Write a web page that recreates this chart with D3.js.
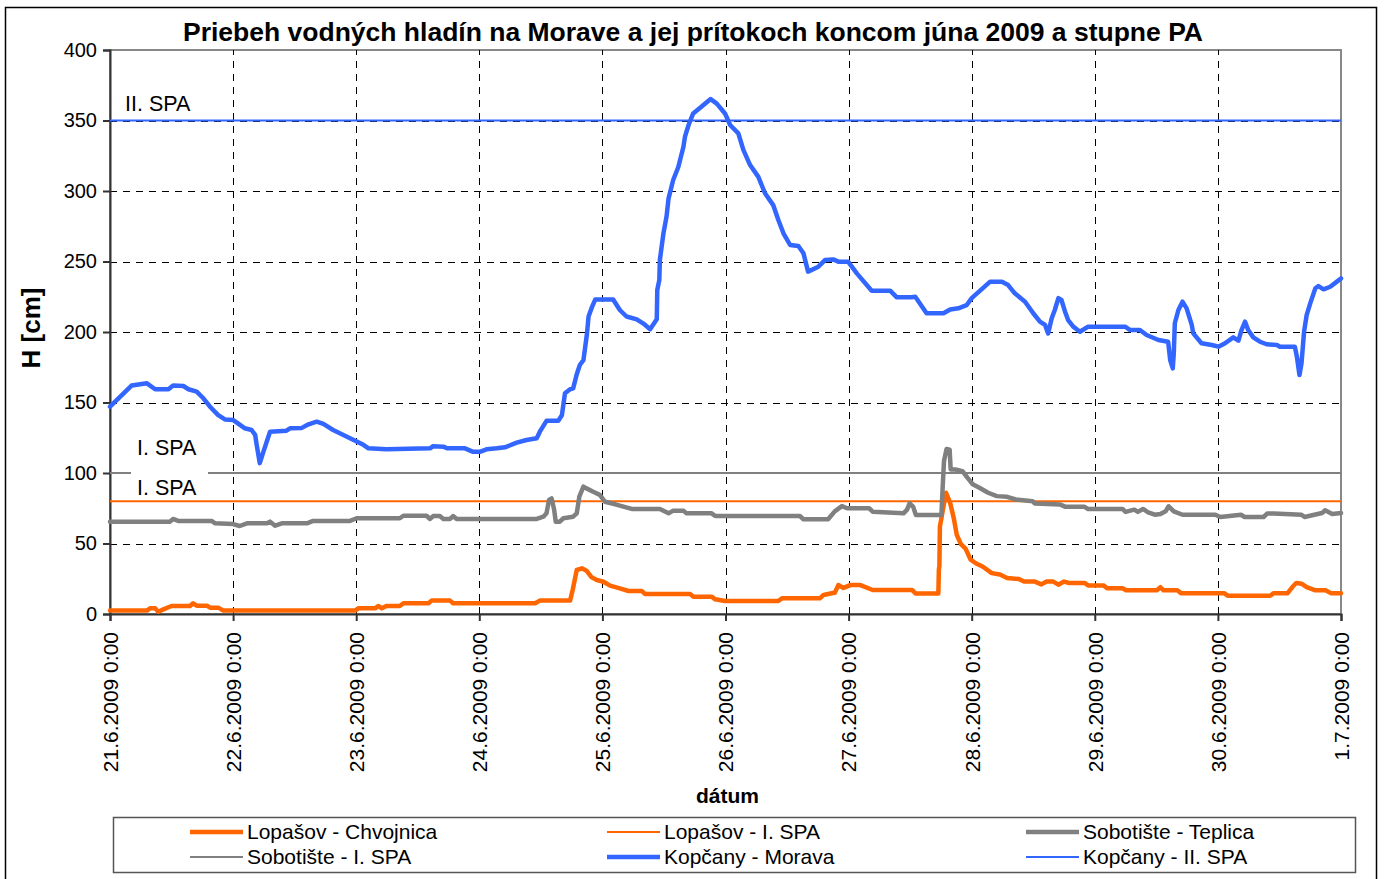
<html><head>
<title>Priebeh vodných hladín - jún 2009</title>
<script src="https://d3js.org/d3.v7.min.js"></script>
<style>
  body { margin: 0; background: #fff; }
  svg text { font-family: "Liberation Sans", Arial, sans-serif; fill: #000; }

  .gridlines line {
    stroke: #000;
    stroke-dasharray: 7,6;
    shape-rendering: crispEdges;
  }
  .gridlines .domain {
    stroke: none;
  }
  .axis .domain, .axis line {
    stroke: #333;
    stroke-width: 2px;
  }
</style>
</head>
<body>
<svg id="chart" width="1384" height="879"></svg>

<script>
  // hours from 21.6.2009 0:00, water level H [cm]
  const lopasovChvojnica = [[0,2.4],[7.2,2.4],[7.8,4],[8.8,4],[9.4,1.6],[10.4,3.3],[12,5.7],[15.6,5.7],[16.2,7.6],[16.9,5.9],
    [18.9,5.9],[19.5,4.5],[21.1,4.5],[22.1,2.4],[47.8,2.4],[48.4,4],[51.7,4],[52.3,5.7],[53,4],[53.9,5.7],[56.5,5.7],[57.2,7.6],
    [62.1,7.6],[62.7,9.5],[66.3,9.5],[66.9,7.6],[82.9,7.6],[83.8,9.5],[89.7,9.5],[90.2,17],[91,31.2],[92,32.4],[92.9,30.7],
    [93.9,26],[94.9,24.1],[96.2,22.9],[97.5,20.1],[99.4,18.2],[101.1,16.3],[103.7,16.3],[104.3,14.2],[113.1,14.2],[113.7,12.3],
    [117.3,12.3],[118,10.4],[119.9,9.2],[130.3,9.2],[131,11.1],[138.4,11.1],[139.1,13.5],[140.7,14.7],[141.3,15],[142,20.5],
    [143,18.5],[144.3,20.5],[146.3,20.5],[148.7,17],[156.4,17],[157.1,14.5],[161.5,14.5],[161.6,31.5],[161.7,34],[161.8,62],
    [162.1,68],[162.5,76.4],[163,86],[163.8,78.8],[164.5,68],[165.1,56],[165.9,49.5],[166.8,46.4],[167.8,38.5],[168.8,36],
    [170.2,33.5],[171.9,29],[173.5,28],[174.9,25.5],[177.2,24.8],[178.2,23],[180.3,23],[181.6,21],[182.6,23],[183.9,23],
    [184.9,20.8],[186,23],[187,22],[190,22],[190.7,20.3],[193.7,20.3],[194.4,18.3],[197.4,18.3],[198.1,16.8],[204.1,16.8],
    [204.8,19],[205.4,16.8],[208.1,16.8],[208.8,14.8],[217.2,14.8],[217.9,13],[226.2,13],[226.9,14.8],[229.6,14.8],[230.6,19.5],
    [231.3,22],[232.3,21.5],[233.3,19],[235,16.8],[237,16.8],[238,14.8],[240,14.8]];

  const sobotisteTeplica = [[0,65.5],[11.7,65.5],[12.3,67.4],[13.3,66],[19.8,66],[20.5,64.3],[24,63.8],[25.3,62.4],[26.7,64.3],
    [30.6,64.3],[31.2,65.5],[32.2,62.6],[33.5,64.3],[38.4,64.3],[39.6,66],[46.8,66],[48.1,67.9],[56.5,67.9],[57.2,69.7],
    [61.7,69.7],[62.4,67.4],[63,69.5],[64.3,69.5],[65,67.4],[66.3,67.4],[66.9,69.5],[67.6,67.4],[83.2,67.4],[84.5,69],
    [85.1,71.4],[85.6,80.9],[86.1,82],[86.6,73.8],[86.9,65.5],[87.7,65.5],[88.4,67.9],[90.3,69],[91,71.4],[91.5,83.2],
    [92.3,90.3],[92.9,89.1],[94.2,86.7],[95.5,84.5],[96.5,79.6],[98.5,77.8],[100.1,76.1],[101.7,74.5],[107.2,74.5],[108.9,71.4],
    [109.8,73.3],[111.8,73.3],[112.4,71.4],[117.3,71.4],[118,69.5],[134.5,69.5],[135.2,67.2],[140,67.2],[141.3,72.8],
    [142.7,76.5],[143.7,75],[148,75],[148.7,72.6],[154.7,71.4],[155.4,74],[155.9,78.5],[156.6,76],[157.1,70.3],[162.1,70.3],
    [162.3,87],[162.6,108.5],[163.1,117],[163.7,116.5],[163.9,102.5],[164.8,102.5],[166.2,101.3],[167.2,96.5],[168.2,92],
    [169.5,89.5],[171.2,86],[172.9,83.6],[174.9,83.1],[176.6,81.2],[179.9,80],[180.3,78.4],[185.3,77.6],[186.3,76],[190,76],
    [190.7,74.5],[197.4,74.5],[198,72.4],[199.7,74],[200.4,72.4],[201.4,74.5],[202.4,72.1],[203.7,70.4],[204.8,70.9],
    [205.8,72.8],[206.4,76.4],[207.4,72.8],[209.1,70.4],[215.5,70.4],[216.5,68.8],[220.5,70.4],[221.2,68.8],[224.9,68.8],
    [225.6,71.2],[226.9,71.2],[232.3,70.4],[232.9,68.8],[236.3,71.6],[236.9,73.6],[238.3,70.9],[240,71.6]];

  const kopcanyMorava = [[0,147],[4.2,162],[7.2,163.6],[8.8,159.4],[11.4,159.4],[12.3,162],[14.3,161.7],[15.3,159.4],
    [16.9,157.7],[18.2,153],[19.5,147],[21.1,141],[22.4,138],[24,137.6],[25,135],[26.3,131.7],[27.6,130.5],[28.3,127],
    [28.6,120],[29.2,107],[29.9,115],[31.2,129.3],[34.4,130],[35.1,131.7],[37.4,132],[38.7,134.5],[40.3,136.4],[41.6,134.8],
    [43.5,130.5],[49.4,120],[50.4,117.5],[53.9,116.8],[62.4,117.5],[63,119],[65,118.7],[65.7,117.5],[69.2,117.5],[70.8,115],
    [72.1,115],[73.4,116.8],[75.4,117.5],[77,118.2],[79.3,121.5],[81.2,123.4],[83.2,124.6],[83.8,129.3],[85.1,137],[87.4,137],
    [88.1,141],[88.7,156.5],[89.7,159.4],[90.3,160],[91,170],[91.6,176.6],[92.3,180],[93,199],[93.3,211],[94,218],[94.6,223],
    [98.1,223],[99.4,215.6],[100.7,211],[102.7,209],[104,206],[105.3,202],[106.6,209],[106.7,229.8],[107.1,237],[107.2,251],
    [107.9,270],[108.5,281.8],[108.9,294.8],[109.8,307.8],[110.8,317],[111.8,331.4],[112.1,338.5],[112.8,346.8],[113.7,355],
    [115.7,361],[117.1,365.2],[118.3,362],[119.9,355],[120.9,346.8],[122.5,340.9],[123.5,329],[124.8,318.4],[126.4,310],
    [127.7,298.4],[129.3,290],[130.3,279.4],[131.3,270],[132.6,261.7],[134.2,261],[135.2,255.8],[136.1,242.8],[138.1,246.3],
    [139.4,251],[141,251.5],[142,249.9],[143.9,249.9],[145.6,241.6],[148.5,229.3],[152.1,229.3],[153.4,224.6],[156.3,224.6],
    [157,225],[159.2,213.3],[162.5,213.3],[163.8,216],[165.4,216.8],[167,219],[168,224],[171.6,235.7],[173.9,235.7],
    [175.1,233.3],[176.4,227.4],[178.4,221.5],[180,213.3],[181.3,207.3],[182.3,205],[182.9,199],[183.6,209.7],[184.2,215.6],
    [184.9,224],[185.5,222.7],[186.2,214.4],[186.8,208.5],[187.8,203.8],[189.1,200.2],[190.7,203.8],[197.9,203.8],
    [198.9,201.4],[200.8,201.4],[202.1,197.9],[204.4,194.3],[206.3,193.1],[206.7,180.1],[207.2,174.2],[207.4,184.9],
    [207.6,206.2],[208.3,215.6],[209.1,221.5],[209.9,216.8],[210.9,205],[211.2,199],[212.8,192],[214.8,190.8],[216.1,189.6],
    [217.4,192],[219,196.2],[220,193.8],[220.6,201.4],[221.3,207.3],[221.9,201.4],[222.9,196.2],[224.2,193.1],[225.5,191.3],
    [227.5,190.8],[228.1,189.6],[231,189.6],[231.4,182.5],[231.9,169.5],[232.3,177.8],[232.8,200.2],[233.3,212],[234,220.3],
    [235,231],[235.6,232.6],[236.6,230.3],[237.9,232.1],[239.2,235.7],[240,238]];

  // flood warning levels (stupne povodňovej aktivity)
  const spaValues = [80, 100, 350];
  const spaLabels = ["I. SPA", "I. SPA", "II. SPA"];

  const seriesNames = ["Lopašov - Chvojnica", "Lopašov - I. SPA", "Sobotište - Teplica",
                       "Sobotište - I. SPA", "Kopčany - Morava", "Kopčany - II. SPA"];
  const seriesColors = ["#ff6600", "#ff6600", "#808080", "#808080", "#3366ff", "#3366ff"];
  const seriesWidths = [4.5, 2, 4.5, 2, 4.5, 2];

  const dayHours = [0, 24, 48, 72, 96, 120, 144, 168, 192, 216, 240];
  const dayLabels = ["21.6.2009 0:00", "22.6.2009 0:00", "23.6.2009 0:00", "24.6.2009 0:00", "25.6.2009 0:00",
                     "26.6.2009 0:00", "27.6.2009 0:00", "28.6.2009 0:00", "29.6.2009 0:00", "30.6.2009 0:00", "1.7.2009 0:00"];
  const yTicks = [0, 50, 100, 150, 200, 250, 300, 350, 400];

  // 0. svg + margins
  const svg = d3.select('svg#chart');
  const width = svg.attr('width');
  const height = svg.attr('height');

  const margins = {top: 50, right: 43, bottom: 265, left: 110};
  const chartWidth = width - margins.left - margins.right;
  const chartHeight = height - margins.top - margins.bottom;

  // outer frame
  svg.append('rect')
     .attr('x', 5.5).attr('y', 7.5)
     .attr('width', 1371).attr('height', 900)
     .attr('fill', '#fff').attr('stroke', '#000').attr('stroke-width', 1.5);

  // title
  svg.append('text')
     .attr('x', 693).attr('y', 41)
     .attr('text-anchor', 'middle')
     .style('font-size', '26.5px').style('font-weight', 'bold')
     .text('Priebeh vodných hladín na Morave a jej prítokoch koncom júna 2009 a stupne PA');

  let chartArea = svg.append('g')
                     .attr('transform', `translate(${margins.left}, ${margins.top})`);

  // 1. scales
  const xScale = d3.scaleLinear().domain([0, 240]).range([0, chartWidth]);
  const yScale = d3.scaleLinear().domain([0, 400]).range([chartHeight, 0]);

  // plot border (grey)
  chartArea.append('rect')
     .attr('x', 0).attr('y', 0)
     .attr('width', chartWidth).attr('height', chartHeight)
     .attr('fill', 'none').attr('stroke', '#888').attr('stroke-width', 2);

  // 2. gridlines
  let leftGridlines = d3.axisLeft(yScale).tickValues(yTicks.slice(1, -1)).tickSize(-chartWidth).tickFormat('');
  chartArea.append('g')
     .attr('class', 'gridlines')
     .call(leftGridlines);

  let bottomGridlines = d3.axisBottom(xScale).tickValues(dayHours.slice(1, -1)).tickSize(-chartHeight).tickFormat('');
  chartArea.append('g')
     .attr('class', 'gridlines')
     .attr('transform', `translate(0, ${chartHeight})`)
     .call(bottomGridlines);

  // 3. axes
  let leftAxis = d3.axisLeft(yScale).tickValues(yTicks).tickSizeOuter(0).tickSize(7).tickPadding(6);
  let yAxisG = chartArea.append('g').attr('class', 'axis').call(leftAxis);
  yAxisG.selectAll('text').style('font-size', '20px');

  let bottomAxis = d3.axisBottom(xScale).tickValues(dayHours).tickSizeOuter(0).tickSize(7)
                     .tickFormat((d, i) => dayLabels[i]);
  let xAxisG = chartArea.append('g')
     .attr('class', 'axis')
     .attr('transform', `translate(0, ${chartHeight})`)
     .call(bottomAxis);
  xAxisG.selectAll('text')
     .style('font-size', '21px')
     .attr('text-anchor', 'end')
     .attr('transform', 'translate(0, 18) rotate(-90)')
     .attr('x', 0).attr('y', 0).attr('dy', '0.35em');

  // axis titles
  svg.append('text')
     .attr('transform', `translate(40, ${margins.top + chartHeight / 2 - 4}) rotate(-90)`)
     .attr('text-anchor', 'middle')
     .style('font-size', '26px').style('font-weight', 'bold')
     .text('H [cm]');

  svg.append('text')
     .attr('x', margins.left + chartWidth / 2 + 2).attr('y', 803)
     .attr('text-anchor', 'middle')
     .style('font-size', '21px').style('font-weight', 'bold')
     .text('dátum');

  // 4. lines (Excel order: series, then its threshold)
  const line = d3.line().x(d => xScale(d[0])).y(d => yScale(d[1]));
  const allSeries = [lopasovChvojnica, null, sobotisteTeplica, null, kopcanyMorava, null];

  allSeries.forEach((data, i) => {
    if (data === null) {
      const v = spaValues[Math.floor(i / 2)];
      chartArea.append('line')
         .attr('x1', xScale(0)).attr('x2', xScale(240))
         .attr('y1', yScale(v)).attr('y2', yScale(v))
         .attr('stroke', seriesColors[i]).attr('stroke-width', seriesWidths[i]);
    } else {
      chartArea.append('path')
         .datum(data)
         .attr('d', line)
         .attr('fill', 'none')
         .attr('stroke', seriesColors[i])
         .attr('stroke-width', seriesWidths[i])
         .attr('stroke-linejoin', 'round')
         .attr('stroke-linecap', 'round');
    }
  });

  // threshold labels
  const labelPos = [{x: 27, y: yScale(80) - 14}, {x: 27, y: yScale(100) - 26}, {x: 15, y: yScale(350) - 17}];
  labelPos.forEach((p, i) => {
    if (i === 0) {
      chartArea.append('rect')
         .attr('x', 21).attr('y', yScale(100) - 3)
         .attr('width', 77).attr('height', yScale(80) - yScale(100) + 1)
         .attr('fill', '#fff');
    }
    chartArea.append('text')
       .attr('x', p.x).attr('y', p.y)
       .attr('dy', '0.35em')
       .style('font-size', '21.5px')
       .text(spaLabels[i]);
  });

  // 5. legend
  svg.append('rect')
     .attr('x', 113.5).attr('y', 817.5)
     .attr('width', 1242).attr('height', 55)
     .attr('fill', '#fff').attr('stroke', '#555').attr('stroke-width', 1.5);

  const legendCols = [190, 607, 1026];
  const legendRows = [832, 857];
  seriesNames.forEach((name, i) => {
    const lx = legendCols[i % 3];
    const ly = legendRows[Math.floor(i / 3)];
    svg.append('line')
       .attr('x1', lx).attr('x2', lx + 53)
       .attr('y1', ly).attr('y2', ly)
       .attr('stroke', seriesColors[i]).attr('stroke-width', seriesWidths[i]);
    svg.append('text')
       .attr('x', lx + 57).attr('y', ly)
       .attr('dy', '0.35em')
       .style('font-size', '21px')
       .text(name);
  });
</script>
</body>
</html>
